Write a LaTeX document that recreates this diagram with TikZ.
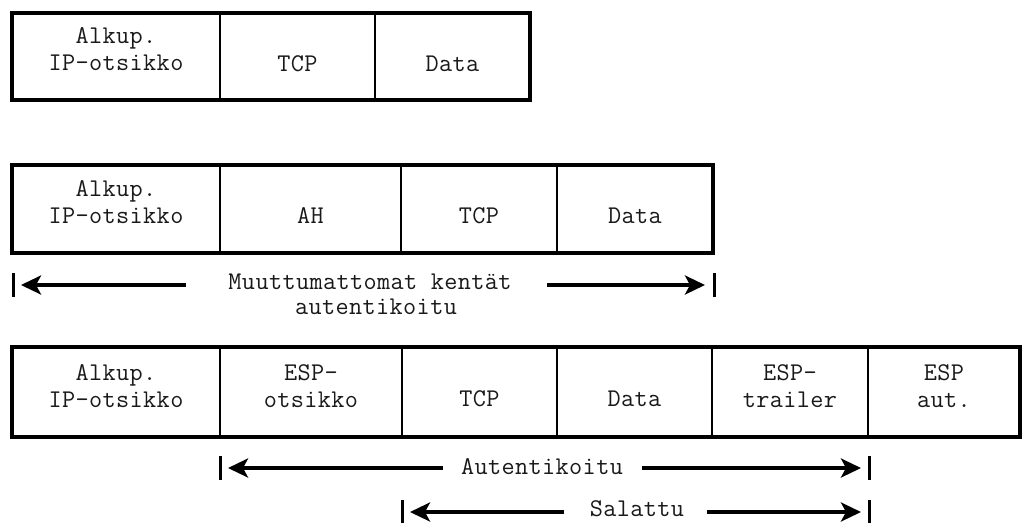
\documentclass[tikz,border=0pt]{standalone}
\usepackage{fontspec}
\newfontfamily\cellfont{Latin Modern Mono}[LetterSpace=1.5]
\usetikzlibrary{arrows.meta}
\tikzset{
  cell/.style={draw=black, line width=2.2pt, inner sep=0pt, outer sep=0pt},
  frame/.style={draw=black, line width=3.4pt},
  txt/.style={font=\cellfont\fontsize{25.5}{27}\selectfont, text=black!90, align=center, inner sep=0pt},
  span/.style={line width=3.5pt, -{Stealth[length=20pt,width=19pt,inset=5pt]}},
  endbar/.style={line width=3pt},
}
\begin{document}
\begin{tikzpicture}[x=1pt,y=-1pt]
\useasboundingbox (0,0) rectangle (1022,523);

% ---- plain packet ----
\node[cell, minimum width=208pt, minimum height=87pt] (r1a) at (116,56.5) {};
\node[cell, minimum width=155pt, minimum height=87pt] (r1b) at (297.5,56.5) {};
\node[cell, minimum width=155pt, minimum height=87pt] (r1c) at (452.5,56.5) {};
\draw[frame] (r1a.north west) rectangle (r1c.south east);
\node[txt] (t1a) at ([yshift=7pt]r1a.center) {Alkup.\\IP-otsikko};
\node[txt] (t1b) at ([yshift=-7pt]r1b.center) {TCP};
\node[txt] (t1c) at ([yshift=-7pt]r1c.center) {Data};

% ---- AH packet ----
\node[cell, minimum width=208pt, minimum height=88pt] (r2a) at (116,209) {};
\node[cell, minimum width=181pt, minimum height=88pt] (r2b) at (310.5,209) {};
\node[cell, minimum width=156pt, minimum height=88pt] (r2c) at (479,209) {};
\node[cell, minimum width=156pt, minimum height=88pt] (r2d) at (635,209) {};
\draw[frame] (r2a.north west) rectangle (r2d.south east);
\node[txt] (t2a) at ([yshift=7pt]r2a.center) {Alkup.\\IP-otsikko};
\node[txt] (t2b) at ([yshift=-7pt]r2b.center) {AH};
\node[txt] (t2c) at ([yshift=-7pt]r2c.center) {TCP};
\node[txt] (t2d) at ([yshift=-7pt]r2d.center) {Data};

% span under the AH packet
\coordinate (mL) at (13,285);
\coordinate (mLs) at (186,285);
\coordinate (mR) at (714,285);
\coordinate (mRs) at (547,285);
\draw[endbar] (mL) ++(0,-12) -- ++(0,24);
\draw[endbar] (mR) ++(0,-12) -- ++(0,24);
\draw[span] (mLs) -- ([xshift=8pt]mL);
\draw[span] (mRs) -- ([xshift=-9pt]mR);
\node[txt] (m1) at (370,282) {Muuttumattomat kentät};
\node[txt] (m2) at (376,307) {autentikoitu};

% ---- ESP packet ----
\node[cell, minimum width=208pt, minimum height=90pt] (r3a) at (116,392) {};
\node[cell, minimum width=182pt, minimum height=90pt] (r3b) at (311,392) {};
\node[cell, minimum width=155pt, minimum height=90pt] (r3c) at (479.5,392) {};
\node[cell, minimum width=155pt, minimum height=90pt] (r3d) at (634.5,392) {};
\node[cell, minimum width=156pt, minimum height=90pt] (r3e) at (790,392) {};
\node[cell, minimum width=152pt, minimum height=90pt] (r3f) at (944,392) {};
\draw[frame] (r3a.north west) rectangle (r3f.south east);
\node[txt] (t3a) at ([yshift=6pt]r3a.center) {Alkup.\\IP-otsikko};
\node[txt] (t3b) at ([yshift=6pt]r3b.center) {ESP-\\otsikko};
\node[txt] (t3c) at ([yshift=-7pt]r3c.center) {TCP};
\node[txt] (t3d) at ([yshift=-7pt]r3d.center) {Data};
\node[txt] (t3e) at ([yshift=6pt]r3e.center) {ESP-\\trailer};
\node[txt] (t3f) at ([yshift=6pt]r3f.center) {ESP\\aut.};

% authenticated span
\coordinate (aL) at (220,468);
\coordinate (aLs) at (443,468);
\coordinate (aR) at (869,468);
\coordinate (aRs) at (642,468);
\draw[endbar] (aL) ++(0,-12) -- ++(0,24);
\draw[endbar] (aR) ++(0,-12) -- ++(0,24);
\draw[span] (aLs) -- ([xshift=8pt]aL);
\draw[span] (aRs) -- ([xshift=-8pt]aR);
\node[txt] (alab) at (542,467) {Autentikoitu};

% encrypted span
\coordinate (sL) at (402,512);
\coordinate (sLs) at (564,512);
\coordinate (sR) at (869,512);
\coordinate (sRs) at (707,512);
\draw[endbar] (sL) ++(0,-12) -- ++(0,23);
\draw[endbar] (sR) ++(0,-12) -- ++(0,23);
\draw[span] (sLs) -- ([xshift=8pt]sL);
\draw[span] (sRs) -- ([xshift=-8pt]sR);
\node[txt] (slab) at (637,509) {Salattu};
\end{tikzpicture}
\end{document}
